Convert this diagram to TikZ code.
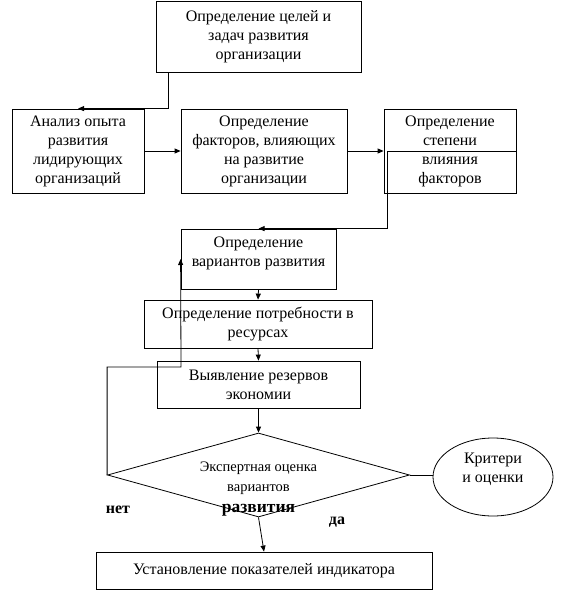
\documentclass[tikz,border=0pt]{standalone}
\usepackage{fontspec}
\setmainfont{Liberation Serif}
\usetikzlibrary{arrows.meta,shapes.geometric}
\begin{document}
\begin{tikzpicture}[x=1pt,y=-1pt,
  box/.style={draw, line width=0.8pt, inner sep=0pt, align=center, font=\fontsize{16}{19}\selectfont},
  txt/.style={inner sep=0pt, align=center, font=\fontsize{16}{19}\selectfont},
  lbl/.style={inner sep=0pt, font=\bfseries\fontsize{16}{19}\selectfont},
  arr/.style={line width=0.8pt, -{Triangle[length=6pt,width=5pt]}},
  ln/.style={line width=0.8pt}]
\useasboundingbox (0,0) rectangle (565,602);

\node[box, minimum width=205pt, minimum height=71pt] (b1) at (258.5,36.5) {Определение целей и\\задач развития\\организации};
\node[box, minimum width=132pt, minimum height=84pt] (b2) at (78,151) {Анализ опыта\\развития\\лидирующих\\организаций};
\node[box, minimum width=166pt, minimum height=84pt] (b3) at (264,151) {Определение\\факторов, влияющих\\на развитие\\организации};
\node[box, minimum width=132pt, minimum height=84pt] (b4) at (450,151) {Определение\\степени\\влияния\\факторов};
\node[box, minimum width=155pt, minimum height=60pt] (b5) at (258.5,259) {};
\node[txt] (b5t) at (258.5,253) {Определение\\вариантов развития};
\node[box, minimum width=228pt, minimum height=48pt] (b6) at (258,324) {Определение потребности в\\ресурсах};
\node[box, minimum width=203pt, minimum height=47pt] (b7) at (258.5,384.5) {Выявление резервов\\экономии};
\node[draw, diamond, line width=0.8pt, inner sep=0pt, minimum width=302pt, minimum height=84pt] (dia) at (258.5,475) {};
\node[draw, ellipse, line width=0.8pt, minimum width=120pt, minimum height=78pt] (el) at (493,477) {};
\node[txt] (elt) at (493,469.5) {Критери\\и оценки};
\node[box, minimum width=336pt, minimum height=37pt] (b8) at (264,570.5) {Установление показателей индикатора};

\node[txt, font=\fontsize{14.5}{20.5}\selectfont] (diat) at (258.5,489) {Экспертная оценка\\вариантов\\{\bfseries\fontsize{17.5}{20.5}\selectfont развития}};
\node[lbl] (net) at (118,510) {нет};
\node[lbl] (da) at (337,522) {да};

\coordinate (c1) at (168,72);
\coordinate (k4) at (387,151);
\coordinate (f1) at (181,367);

\draw[arr] (c1) |- (b2.north);
\draw[arr] (b2.east) -- (b3.west);
\draw[arr] (b3.east) -- (b4.west);
\draw[ln] (b4.east) -- (k4);
\draw[arr] (k4) |- (b5.north);
\draw[arr] (b5.south) -- (b6.north);
\draw[arr] (b6.south) -- (b7.north);
\draw[arr] (b7.south) -- (dia.north);
\draw[arr] (dia.west) |- (f1) -- (b5.west);
\draw[ln] (dia.east) -- (dia.east -| el.west);
\draw[arr] (dia.south) -- (b8.north);
\end{tikzpicture}
\end{document}
